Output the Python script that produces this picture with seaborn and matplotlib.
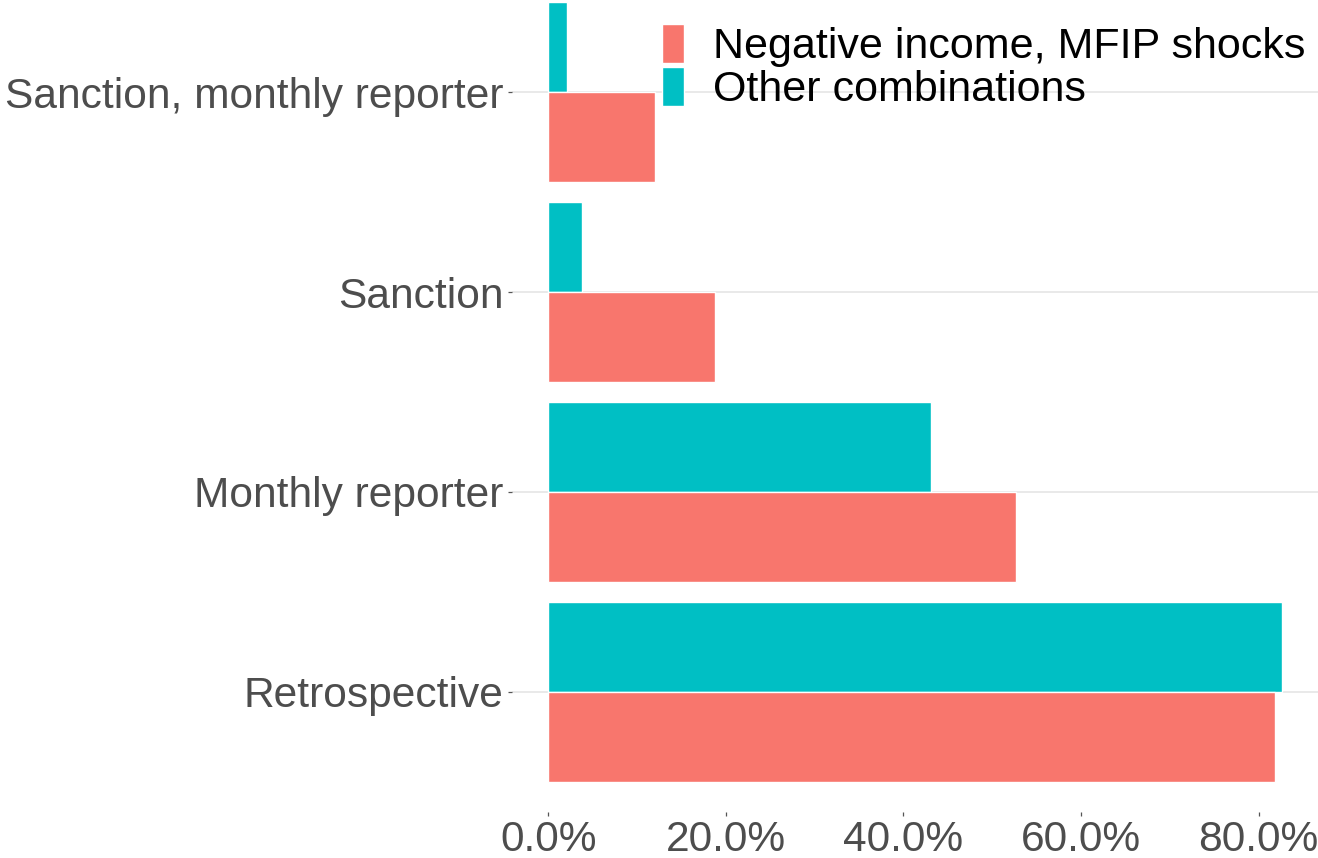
import matplotlib
matplotlib.use("Agg")
import matplotlib.pyplot as plt
import seaborn as sns
import pandas as pd
from matplotlib.patches import Patch
from matplotlib.ticker import FuncFormatter

categories = ["Sanction, monthly reporter", "Sanction", "Monthly reporter", "Retrospective"]
negative_income = [0.120, 0.188, 0.527, 0.818]
other_combinations = [0.021, 0.038, 0.431, 0.826]
series_names = ["Negative income, MFIP shocks", "Other combinations"]
colors = {"Negative income, MFIP shocks": "#F8766D", "Other combinations": "#00BFC4"}
x_ticks = [0.0, 0.2, 0.4, 0.6, 0.8]

df = pd.DataFrame({
    "category": categories * 2,
    "series": [series_names[0]] * 4 + [series_names[1]] * 4,
    "value": negative_income + other_combinations,
})

sns.set_theme(style="white")
plt.rcParams["font.family"] = ["Liberation Sans", "DejaVu Sans"]

fig = plt.figure(figsize=(13.18, 8.58), dpi=100)
W, H = 1318, 858
left, right, top, bottom = 511.6, 1318, 0, 812
ax = fig.add_axes([left / W, (H - bottom) / H, (right - left) / W, (bottom - top) / H])

sns.barplot(data=df, x="value", y="category", hue="series", order=categories,
            hue_order=[series_names[1], series_names[0]], palette=colors,
            orient="h", width=0.9, saturation=1, ax=ax, legend=False)

ax.set_xlim(-0.0413, 0.8668)
ax.set_ylim(3.6, -0.46)
ax.set_xticks(x_ticks)
ax.xaxis.set_major_formatter(FuncFormatter(lambda v, p: f"{v*100:.1f}%"))
ax.set_xlabel("")
ax.set_ylabel("")
for s in ax.spines.values():
    s.set_visible(False)
ax.grid(False)
ax.set_axisbelow(True)
for i in range(len(categories)):
    ax.axhline(i, color="#E5E5E5", lw=1.2, zorder=0)
ax.tick_params(axis="both", which="both", length=2.6, width=0.9, color="#555555",
               labelsize=30.6, labelcolor="#4D4D4D")
ax.tick_params(axis="y", left=True, pad=3.5)
ax.tick_params(axis="x", bottom=True, pad=3.3)

handles = [Patch(facecolor=colors[n], edgecolor="white", lw=1) for n in series_names]
leg = ax.legend(handles, series_names, loc="upper left", bbox_to_anchor=(662 / W, 1 - 24 / H),
                bbox_transform=fig.transFigure, frameon=False, fontsize=31,
                handlelength=0.5, handleheight=1.0, handletextpad=0.68,
                labelspacing=0.0, borderpad=0, borderaxespad=0)
for t in leg.get_texts():
    t.set_color("black")

fig.savefig("out.png", dpi=100)
